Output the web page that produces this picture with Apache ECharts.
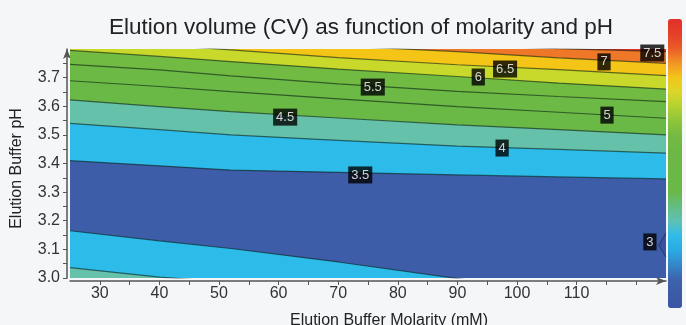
<!DOCTYPE html>
<html><head><meta charset="utf-8">
<script src="https://cdn.jsdelivr.net/npm/echarts@6/dist/echarts.min.js"></script>
<style>html,body{margin:0;padding:0;background:#f5f6f8}#c{width:686px;height:325px}</style>
</head><body><div id="c"></div>
<script>
// Molarity samples (mM) at which each contour's pH was read
const xSamples = [25, 40, 52, 70, 90, 107, 125];
// Upper family of contour lines (pH values at xSamples)
const contour35Upper = [3.410, 3.392, 3.377, 3.369, 3.360, 3.353, 3.346];
const contour40Upper = [3.540, 3.518, 3.500, 3.481, 3.461, 3.449, 3.436];
const contour45 = [3.622, 3.599, 3.581, 3.559, 3.535, 3.518, 3.500];
const contour50 = [3.689, 3.669, 3.651, 3.626, 3.599, 3.579, 3.558];
const contour55 = [3.746, 3.727, 3.706, 3.678, 3.652, 3.634, 3.616];
const contour60 = [3.795, 3.774, 3.756, 3.730, 3.704, 3.681, 3.660];
const contour65 = [3.833, 3.814, 3.797, 3.770, 3.745, 3.728, 3.707];
const contour70 = [3.856, 3.842, 3.830, 3.811, 3.791, 3.769, 3.750];
const contour75 = [3.884, 3.866, 3.852, 3.835, 3.814, 3.801, 3.791];
// Lower family
const contour35Lower = [3.165, 3.130, 3.103, 3.056, 2.998, 2.950, 2.906];
const contour40Lower = [3.036, 3.003, 2.985, 2.950, 2.920, 2.900, 2.880];
// Small 3.0 contour at the right edge
const contour30X = [125, 123.8, 125];
const contour30Y = [3.157, 3.115, 3.073];
// Contour labels
const labelTexts = ['3', '3.5', '4', '4.5', '5', '5.5', '6', '6.5', '7', '7.5'];
const labelX = [122.3, 73.7, 97.5, 61.1, 115.1, 75.8, 93.5, 98.0, 114.6, 122.7];
const labelY = [3.126, 3.360, 3.454, 3.562, 3.569, 3.667, 3.702, 3.730, 3.755, 3.786];
// Tick labels
const xTickLabels = [30, 40, 50, 60, 70, 80, 90, 100, 110];
const yTickLabels = [3.0, 3.1, 3.2, 3.3, 3.4, 3.5, 3.6, 3.7];
const xMinorTicks = [30, 35, 40, 45, 50, 55, 60, 65, 70, 75, 80, 85, 90, 95, 100, 105, 110, 115, 120];
const yMinorTicks = [3.0, 3.05, 3.1, 3.15, 3.2, 3.25, 3.3, 3.35, 3.4, 3.45, 3.5, 3.55, 3.6, 3.65, 3.7, 3.75];

const FONT = '"Liberation Sans", Arial, sans-serif';
const C = {
  dark: '#3d5da8', light: '#2dbbea', teal: '#66c1ab', g1: '#6ab846', g2: '#6cb945', g3: '#72bb43',
  yg: '#c9d92c', gold: '#f4c417', orange: '#ee7828', red: '#de3328', min: '#3953a0'
};
const bands = [
  {line: contour35Upper, side: 'above', color: C.light},
  {line: contour40Upper, side: 'above', color: C.teal},
  {line: contour45, side: 'above', color: C.g1},
  {line: contour50, side: 'above', color: C.g2},
  {line: contour55, side: 'above', color: C.g3},
  {line: contour60, side: 'above', color: C.yg},
  {line: contour65, side: 'above', color: C.gold},
  {line: contour70, side: 'above', color: C.orange},
  {line: contour75, side: 'above', color: C.red},
  {line: contour35Lower, side: 'below', color: C.light},
  {line: contour40Lower, side: 'below', color: C.teal},
  {side: 'notch', color: C.min}
];
const lines = [contour35Upper, contour40Upper, contour45, contour50, contour55, contour60,
  contour65, contour70, contour75, contour35Lower, contour40Lower];

const chart = echarts.init(document.getElementById('c'), null, {renderer: 'canvas'});
const lineSeries = lines.map(arr => ({
  type: 'line', data: xSamples.map((x, i) => [x, arr[i]]), symbol: 'none', silent: true,
  clip: true, lineStyle: {color: 'rgba(10,30,20,0.6)', width: 1.2}, z: 3
}));
lineSeries.push({
  type: 'line', data: contour30X.map((x, i) => [x, contour30Y[i]]), symbol: 'none', silent: true,
  clip: true, lineStyle: {color: 'rgba(20,30,80,0.6)', width: 1}, z: 3
});

chart.setOption({
  backgroundColor: '#f5f6f8',
  animation: false,
  title: {
    text: 'Elution volume (CV) as function of molarity and pH',
    left: 356, top: 11, textAlign: 'center',
    textStyle: {fontFamily: FONT, fontSize: 22.5, fontWeight: 'normal', color: '#222'}
  },
  grid: {left: 70, top: 49, width: 596, height: 229, show: true, backgroundColor: C.dark, borderWidth: 0,
    containLabel: false, outerBoundsMode: 'none'},
  visualMap: {
    type: 'continuous', min: 2.5, max: 8, seriesIndex: [], calculable: false, orient: 'vertical',
    left: 668, top: 19, itemWidth: 14, itemHeight: 289, padding: 0, text: null, showLabel: false,
    inRange: {color: ['#3b55a4', '#3c5ba7', '#3d64ad', '#3487c9', '#2aaae2', '#2fbcea', '#5ec1b4',
      '#63bd84', '#6ab848', '#6ab846', '#6bb846', '#6db845', '#76bb42', '#90c53a', '#b6d22f',
      '#dcd62a', '#f4c31a', '#f19226', '#ea5a28', '#e43f29', '#e2302a']}
  },
  xAxis: {
    type: 'value', min: 25, max: 125, offset: 3,
    name: 'Elution Buffer Molarity (mM)', nameLocation: 'middle', nameGap: 32,
    nameTextStyle: {fontFamily: FONT, fontSize: 16, color: '#222', padding: [0, 0, 0, 42]},
    axisLine: {show: true, symbol: ['none', 'arrow'], symbolSize: [6, 10], lineStyle: {color: '#555', width: 1.5}},
    axisTick: {show: true, customValues: xMinorTicks, length: 4, lineStyle: {color: '#555'}},
    axisLabel: {customValues: xTickLabels, fontFamily: FONT, fontSize: 16, color: '#333', margin: 5},
    splitLine: {show: false}
  },
  yAxis: {
    type: 'value', min: 3.0, max: 3.8, offset: 3,
    name: 'Elution Buffer pH', nameLocation: 'middle', nameGap: 42,
    nameTextStyle: {fontFamily: FONT, fontSize: 16, color: '#222', padding: [0, 10, 0, 0]},
    axisLine: {show: true, symbol: ['none', 'arrow'], symbolSize: [6, 10], lineStyle: {color: '#555', width: 1.5}},
    axisTick: {show: true, customValues: yMinorTicks, length: 4, lineStyle: {color: '#555'}},
    axisLabel: {customValues: yTickLabels, formatter: v => Number(v).toFixed(1), fontFamily: FONT, fontSize: 16, color: '#333', margin: 7},
    splitLine: {show: false}
  },
  series: [
    {
      type: 'custom', clip: true, silent: true, z: 2,
      data: bands.map((b, i) => [25, 3.0, i]),
      encode: {x: 0, y: 1},
      renderItem: (params, api) => {
        const b = bands[params.dataIndex];
        let pts;
        if (b.side === 'notch') {
          pts = contour30X.map((x, i) => api.coord([x, contour30Y[i]]));
        } else {
          pts = xSamples.map((x, i) => api.coord([x, b.line[i]]));
          const edge = b.side === 'above' ? 4.5 : 2.3;
          pts.push(api.coord([xSamples[xSamples.length - 1], edge]));
          pts.push(api.coord([xSamples[0], edge]));
        }
        return {type: 'polygon', shape: {points: pts}, style: {fill: b.color, stroke: null}};
      }
    },
    ...lineSeries,
    {
      type: 'scatter', symbol: 'rect', symbolSize: 1, silent: true, z: 5,
      itemStyle: {color: '#000'},
      data: labelX.map((x, i) => [x, labelY[i], labelTexts[i]]),
      label: {
        show: true, position: 'inside', formatter: p => p.value[2],
        color: '#fff', backgroundColor: '#000', padding: [2, 3, 1, 3],
        fontFamily: FONT, fontSize: 13, lineHeight: 14
      }
    }
  ]
});
</script></body></html>
